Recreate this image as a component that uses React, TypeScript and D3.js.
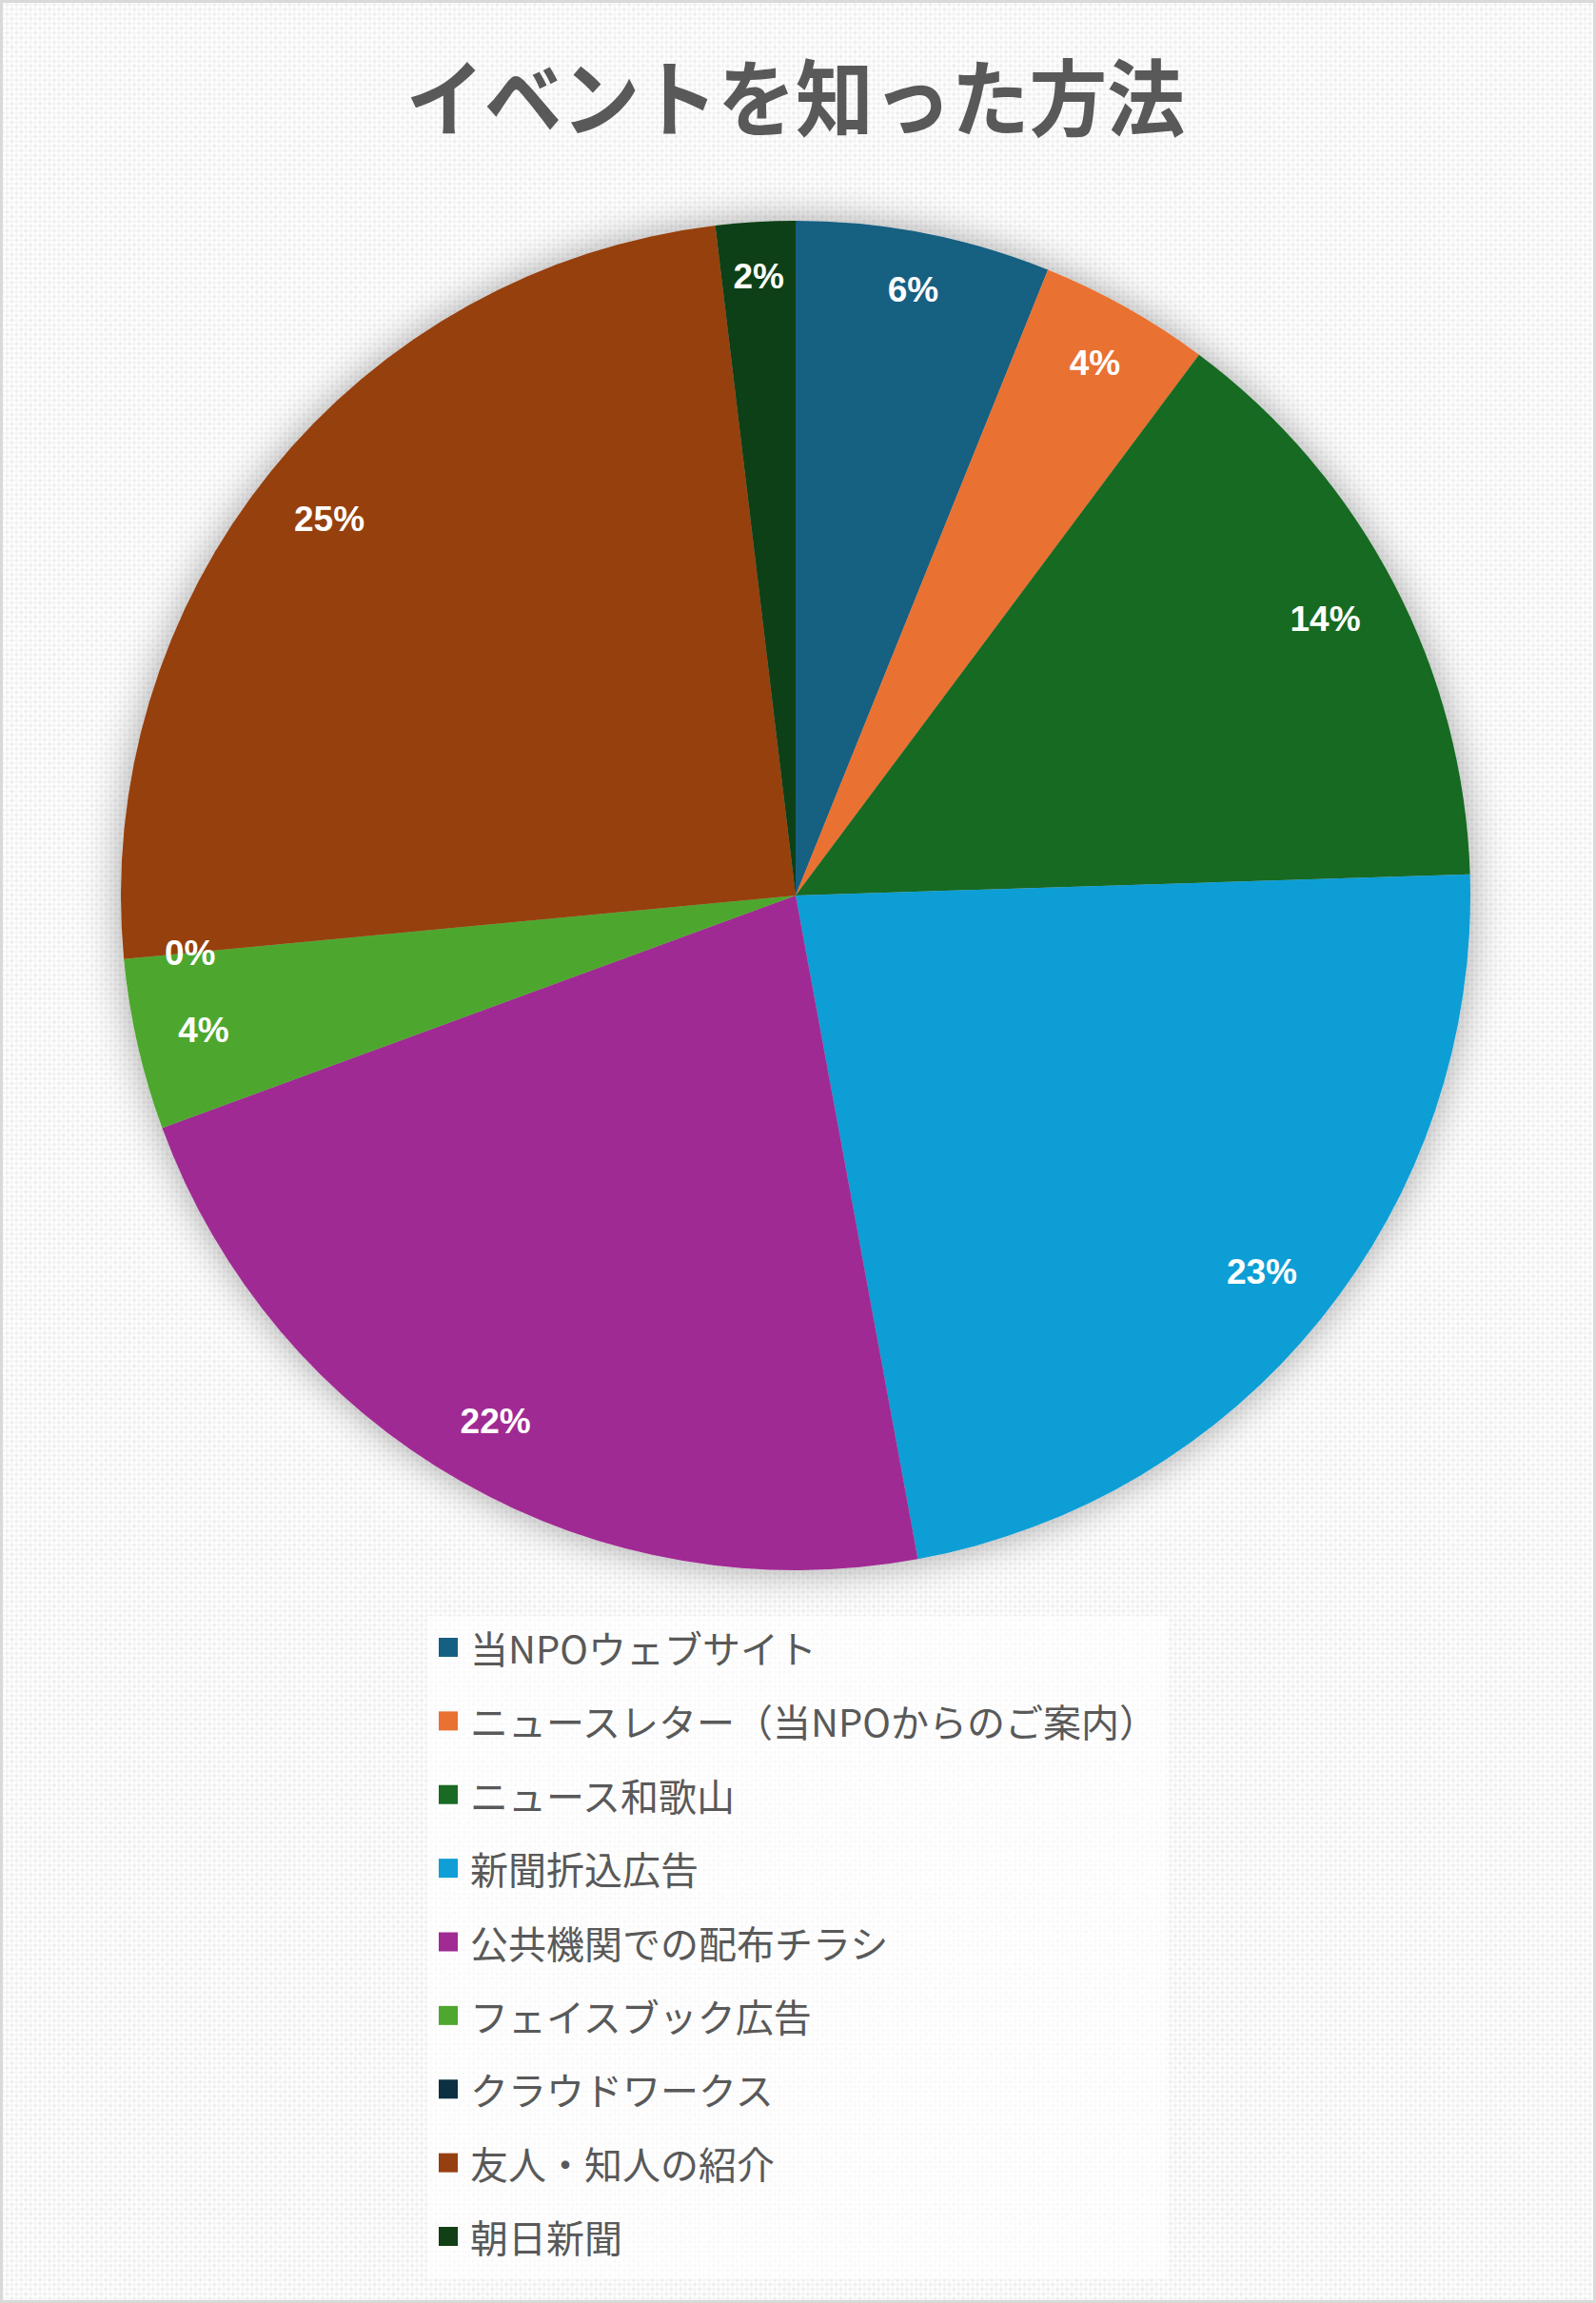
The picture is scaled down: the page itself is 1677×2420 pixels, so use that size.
import { useEffect } from 'react'
import * as d3 from 'd3'

const categories = [
  '当NPOウェブサイト',
  'ニュースレター（当NPOからのご案内）',
  'ニュース和歌山',
  '新聞折込広告',
  '公共機関での配布チラシ',
  'フェイスブック広告',
  'クラウドワークス',
  '友人・知人の紹介',
  '朝日新聞',
]
const shares = [6.1, 4.1, 14.3, 22.6, 22.3, 4.1, 0, 24.6, 1.9]
const colors = [
  '#156082', '#E97132', '#196B24', '#0F9ED5', '#A02B93',
  '#4EA72E', '#0B3041', '#963F11', '#113F16',
]
const title = 'イベントを知った方法'

const W = 1677
const H = 2420
const cx = 836
const cy = 941
const R = 709

type Slice = d3.PieArcDatum<number>

const App = () => {
  useEffect(() => {
    document.body.style.margin = '0'
  }, [])

  const total = d3.sum(shares)
  const pct = d3.format('.0%')
  const pie = d3.pie<number>().sort(null).value(d => d)
  const arcs = pie(shares)
  const arc = d3.arc<Slice>().innerRadius(0).outerRadius(R)

  // label sits inside the outer edge, like Excel's "inside end"
  const labelPos = (d: Slice) => {
    const a = (d.startAngle + d.endAngle) / 2
    const txt = pct(d.data / total)
    const halfW = (txt.length - 1) * 0.556 * 37 / 2 + 0.889 * 37 / 2
    const halfH = 14
    const dist = R - 42 - (Math.abs(Math.sin(a)) * halfW + Math.abs(Math.cos(a)) * halfH)
    return { x: cx + dist * Math.sin(a), y: cy - dist * Math.cos(a), txt }
  }

  const legendY = d3.scalePoint<number>()
    .domain(d3.range(categories.length))
    .range([1731, 2350])

  return (
    <svg width={W} height={H} style={{ display: 'block' }}>
      <defs>
        <pattern id="carbon" width="7" height="7" patternUnits="userSpaceOnUse"
          patternTransform="rotate(-45)">
          <rect width="7" height="7" fill="#ffffff" />
          <rect width="3.5" height="3.5" fill="#eeeeee" />
          <rect x="3.5" y="3.5" width="3.5" height="3.5" fill="#f4f4f4" />
        </pattern>
        <filter id="shadow" x="-20%" y="-20%" width="140%" height="140%">
          <feDropShadow dx="0" dy="0" stdDeviation="20" floodColor="#000" floodOpacity="0.35" />
        </filter>
      </defs>

      <rect x={1.5} y={1.5} width={W - 3} height={H - 3} fill="url(#carbon)"
        stroke="#d9d9d9" strokeWidth={3} />

      <g transform={`translate(${cx},136) scale(0.93,1)`}>
        <text x={0} y={0} textAnchor="middle" fontFamily="'Noto Sans CJK JP', sans-serif"
          fontWeight="bold" fontSize={88} fill="#595959">{title}</text>
      </g>

      <g transform={`translate(${cx},${cy})`} filter="url(#shadow)">
        {arcs.map((d, i) => (
          <path key={i} d={arc(d) ?? ''} fill={colors[i]} />
        ))}
      </g>

      <g fontFamily="'Liberation Sans', Arial, sans-serif" fontWeight="bold" fontSize={37} fill="#fff">
        {arcs.map((d, i) => {
          const p = labelPos(d)
          return (
            <text key={i} x={p.x} y={p.y} textAnchor="middle" dominantBaseline="central">{p.txt}</text>
          )
        })}
      </g>

      <rect x={449} y={1698} width={778} height={697} fill="#ffffff" fillOpacity={0.65} />
      <g fontFamily="'Noto Sans CJK JP', sans-serif" fontSize={40} fill="#595959">
        {categories.map((c, i) => (
          <g key={c} transform={`translate(0,${legendY(i)})`}>
            <rect x={461} y={-10} width={20} height={20} fill={colors[i]} />
            <text x={494} y={0} dominantBaseline="central">{c}</text>
          </g>
        ))}
      </g>
    </svg>
  )
}

export default App
